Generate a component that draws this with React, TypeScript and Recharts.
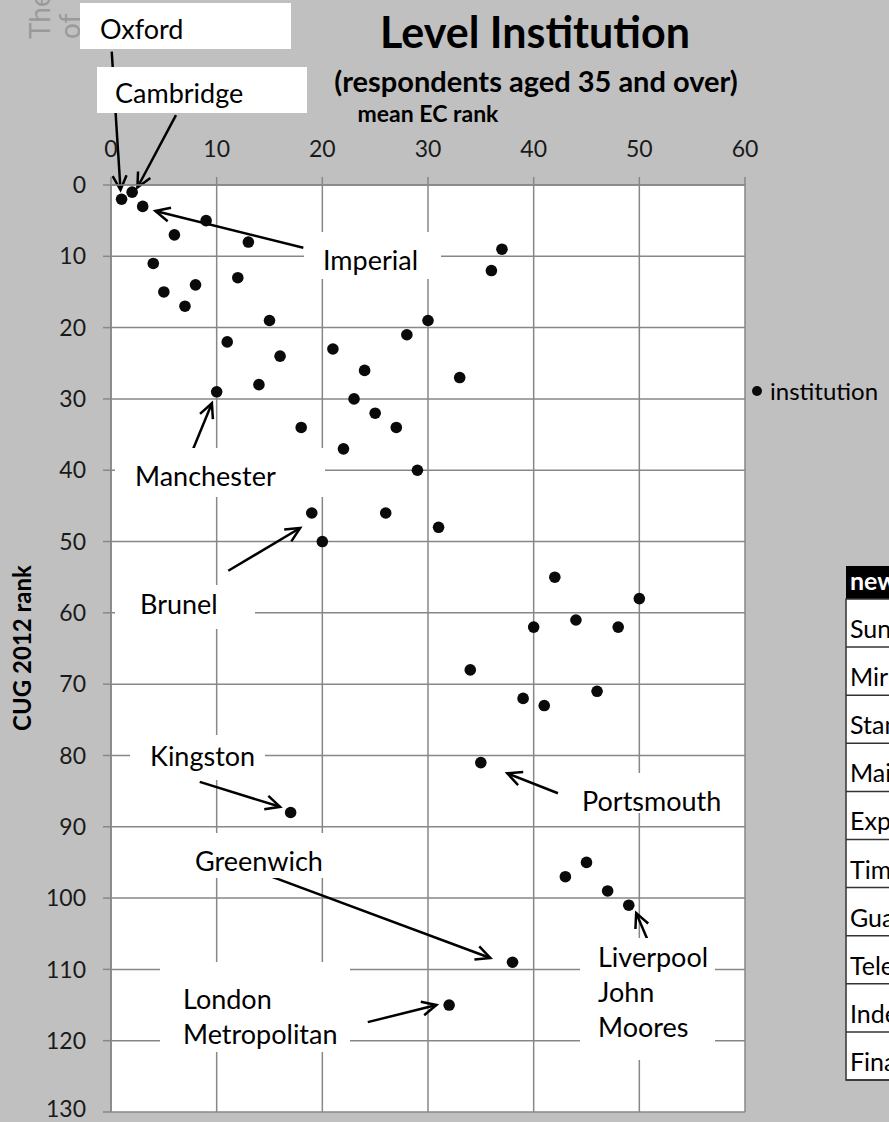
import React from 'react';
import { ScatterChart, Scatter, XAxis, YAxis, CartesianGrid, ReferenceLine, Legend } from 'recharts';

// mean EC rank (x) and CUG 2012 rank (y) for each institution
const meanEcRank = [1, 2, 3, 9, 6, 13, 4, 12, 5, 8, 7, 15, 11, 16, 14, 10, 18, 21, 24, 23, 25, 27, 22, 28, 30, 33, 29, 26, 19, 20, 31, 37, 36, 42, 50, 40, 44, 48, 34, 39, 41, 46, 35, 17, 43, 45, 47, 49, 38, 32];
const cugRank = [2, 1, 3, 5, 7, 8, 11, 13, 15, 14, 17, 19, 22, 24, 28, 29, 34, 23, 26, 30, 32, 34, 37, 21, 19, 27, 40, 46, 46, 50, 48, 9, 12, 55, 58, 62, 61, 62, 68, 72, 73, 71, 81, 88, 97, 95, 99, 101, 109, 115];

const xTicks = [0, 10, 20, 30, 40, 50, 60];
const yTicks = [0, 10, 20, 30, 40, 50, 60, 70, 80, 90, 100, 110, 120, 130];

const tableHeader = 'newspaper';
const tableRows = ['Sun', 'Mirror', 'Standard', 'Mail', 'Express', 'Times', 'Guardian', 'Telegraph', 'Independent', 'Financial Times'];

const points = meanEcRank.map((x, i) => ({ x, y: cugRank[i] }));

// callout arrows, in data units: [start, tip]
const arrows = [
  [{ x: 0.07, y: -18.7 }, { x: 0.9, y: 0.7 }],
  [{ x: 6.15, y: -9.8 }, { x: 2.5, y: 0.35 }],
  [{ x: 18.2, y: 8.8 }, { x: 4.2, y: 3.65 }],
  [{ x: 7.2, y: 39.1 }, { x: 9.55, y: 30.6 }],
  [{ x: 11.1, y: 54.1 }, { x: 17.9, y: 48.1 }],
  [{ x: 8.4, y: 83.7 }, { x: 16.0, y: 87.2 }],
  [{ x: 42.3, y: 85.3 }, { x: 37.5, y: 82.5 }],
  [{ x: 14.3, y: 96.5 }, { x: 35.9, y: 108.4 }],
  [{ x: 24.3, y: 117.4 }, { x: 30.8, y: 115.0 }],
  [{ x: 51.0, y: 106.6 }, { x: 49.7, y: 102.1 }],
];

// white callout boxes (pixels)
const callouts = [
  { x: 80, y: 3, w: 211, h: 46, tx: 100, lines: ['Oxford'], ty: 39 },
  { x: 97, y: 67, w: 210, h: 46, tx: 115, lines: ['Cambridge'], ty: 103 },
  { x: 304, y: 232, w: 137, h: 47, tx: 323, lines: ['Imperial'], ty: 270 },
  { x: 115, y: 448, w: 210, h: 49, tx: 135, lines: ['Manchester'], ty: 486 },
  { x: 115, y: 585, w: 140, h: 44, tx: 140, lines: ['Brunel'], ty: 614 },
  { x: 130, y: 735, w: 135, h: 45, tx: 150, lines: ['Kingston'], ty: 766 },
  { x: 560, y: 773, w: 175, h: 40, tx: 582, lines: ['Portsmouth'], ty: 811 },
  { x: 175, y: 833, w: 165, h: 45, tx: 195, lines: ['Greenwich'], ty: 871 },
  { x: 160, y: 962, w: 190, h: 90, tx: 183, lines: ['London', 'Metropolitan'], ty: 1009 },
  { x: 580, y: 938, w: 135, h: 122, tx: 598, lines: ['Liverpool', 'John', 'Moores'], ty: 967 },
];

const Dot = (props: any) => <circle cx={props.cx} cy={props.cy} r={5.8} fill="#0a0a0a" />;

const Arrow = (props: any) => {
  const { x1, y1, x2, y2 } = props;
  const ang = Math.atan2(y2 - y1, x2 - x1);
  const len = 16;
  const a1 = ang + Math.PI - 0.45;
  const a2 = ang + Math.PI + 0.45;
  return (
    <g>
      <line x1={x1} y1={y1} x2={x2} y2={y2} stroke="#000" strokeWidth={2.5} />
      <path
        d={`M${x2 + len * Math.cos(a1)},${y2 + len * Math.sin(a1)} L${x2},${y2} L${x2 + len * Math.cos(a2)},${y2 + len * Math.sin(a2)}`}
        fill="none"
        stroke="#000"
        strokeWidth={2.5}
      />
    </g>
  );
};

const LegendContent = () => (
  <div style={{ display: 'flex', alignItems: 'center', fontSize: 24, color: '#000', whiteSpace: 'nowrap' }}>
    <svg width={14} height={14} style={{ marginRight: 6 }}>
      <circle cx={7} cy={7} r={5} fill="#0a0a0a" />
    </svg>
    institution
  </div>
);

export default function App() {
  const rowH = 48.1;
  const headTop = 566;
  const tableTop = 599;
  return (
    <div
      style={{
        position: 'absolute',
        left: 0,
        top: 0,
        width: 889,
        height: 1122,
        background: '#c0c0c0',
        overflow: 'hidden',
        fontFamily: 'Lato, sans-serif',
      }}
    >
      <div style={{ position: 'absolute', left: 0, top: 0 }}>
        <ScatterChart width={889} height={1122} margin={{ top: 0, right: 144, bottom: 10, left: 0 }}>
          <CartesianGrid stroke="#878787" strokeWidth={1.5} fill="#ffffff" fillOpacity={1} />
          <XAxis
            type="number"
            dataKey="x"
            orientation="top"
            domain={[0, 60]}
            ticks={xTicks}
            height={185}
            tickSize={8}
            tickMargin={20}
            stroke="#878787"
            strokeWidth={1.5}
            tick={{ fill: '#1a1a1a', fontSize: 23 }}
          />
          <YAxis
            type="number"
            dataKey="y"
            reversed
            domain={[0, 130]}
            ticks={yTicks}
            width={111}
            tickSize={8}
            tickMargin={17}
            stroke="#878787"
            strokeWidth={1.5}
            tick={{ fill: '#1a1a1a', fontSize: 23 }}
          />
          <Scatter name="institution" data={points} shape={Dot} isAnimationActive={false} />
          {arrows.map((seg, i) => (
            <ReferenceLine key={i} segment={seg} ifOverflow="visible" shape={Arrow} />
          ))}
          <Legend
            layout="horizontal"
            verticalAlign="middle"
            align="center"
            content={<LegendContent />}
            wrapperStyle={{ left: 750, top: 376, width: 139 }}
          />
        </ScatterChart>
      </div>
      <svg
        width={889}
        height={1122}
        style={{ position: 'absolute', left: 0, top: 0, pointerEvents: 'none' }}
        fontFamily="Lato, sans-serif"
      >
        <g fill="#9a9a9a" fontSize={28}>
          <text transform="translate(50,39) rotate(-90)">The</text>
          <text transform="translate(80,39) rotate(-90)">of</text>
        </g>
        {callouts.map((c, i) => (
          <g key={i}>
            <rect x={c.x} y={c.y} width={c.w} height={c.h} fill="#fff" />
            {c.lines.map((l, j) => (
              <text key={j} x={c.tx} y={c.ty + j * 35} fontSize={27} fill="#000">
                {l}
              </text>
            ))}
          </g>
        ))}
        <text x={535} y={48} textAnchor="middle" fontSize={43} fontWeight={700} fill="#000">
          Level Institution
        </text>
        <text x={536} y={92} textAnchor="middle" fontSize={29} fontWeight={700} fill="#000">
          (respondents aged 35 and over)
        </text>
        <text x={428} y={122} textAnchor="middle" fontSize={23} fontWeight={700} fill="#000">
          mean EC rank
        </text>
        <text transform="translate(31,648) rotate(-90)" textAnchor="middle" fontSize={24} fontWeight={700} fill="#000">
          CUG 2012 rank
        </text>
        <g>
          <rect x={846} y={headTop} width={60} height={tableTop - headTop} fill="#000" />
          <text x={850} y={tableTop - 9} fontSize={25} fontWeight={700} fill="#fff">
            {tableHeader}
          </text>
          <rect x={846} y={tableTop} width={60} height={rowH * tableRows.length} fill="#fff" stroke="#333" strokeWidth={1.5} />
          {tableRows.map((r, i) => (
            <g key={r}>
              <line x1={846} x2={889} y1={tableTop + (i + 1) * rowH} y2={tableTop + (i + 1) * rowH} stroke="#333" strokeWidth={1.5} />
              <text x={850} y={tableTop + i * rowH + 39} fontSize={25} fill="#000">
                {r}
              </text>
            </g>
          ))}
        </g>
      </svg>
    </div>
  );
}
